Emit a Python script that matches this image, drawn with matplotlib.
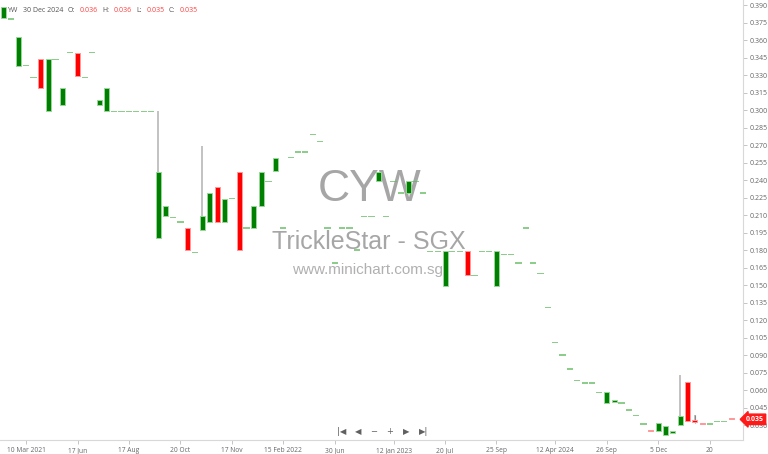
import numpy as np
import matplotlib
matplotlib.use("Agg")
import matplotlib.pyplot as plt
import matplotlib.transforms as mtransforms

# weekly candles CYW (index based x axis)
opens = [0.379, 0.378, 0.338, 0.338, 0.328, 0.344, 0.299, 0.343, 0.304, 0.349,
         0.349, 0.328, 0.349, 0.304, 0.299, 0.299, 0.299, 0.299, 0.299, 0.299,
         0.299, 0.190, 0.209, 0.208, 0.204, 0.199, 0.178, 0.197, 0.204, 0.234,
         0.204, 0.224, 0.247, 0.199, 0.199, 0.218, 0.239, 0.248, 0.199, 0.259,
         0.264, 0.264, 0.279, 0.273, 0.199, 0.169, 0.199, 0.199, 0.180, 0.209,
         0.209, 0.239, 0.209, 0.239, 0.229, 0.229, 0.239, 0.229, 0.179, 0.179,
         0.149, 0.179, 0.179, 0.179, 0.158, 0.179, 0.179, 0.149, 0.176, 0.176,
         0.169, 0.199, 0.169, 0.160, 0.131, 0.101, 0.090, 0.078, 0.068, 0.066,
         0.066, 0.058, 0.049, 0.050, 0.049, 0.043, 0.038, 0.031, 0.026, 0.025,
         0.022, 0.023, 0.030, 0.067, 0.034, 0.032, 0.031, 0.033, 0.033, 0.036]
closes = [0.388, 0.378, 0.363, 0.338, 0.328, 0.319, 0.344, 0.343, 0.319, 0.349,
          0.329, 0.328, 0.349, 0.309, 0.319, 0.299, 0.299, 0.299, 0.299, 0.299,
          0.299, 0.247, 0.218, 0.208, 0.204, 0.180, 0.178, 0.209, 0.229, 0.204,
          0.224, 0.224, 0.180, 0.199, 0.218, 0.247, 0.239, 0.259, 0.199, 0.259,
          0.264, 0.264, 0.279, 0.273, 0.199, 0.169, 0.199, 0.199, 0.180, 0.209,
          0.209, 0.247, 0.209, 0.239, 0.229, 0.239, 0.239, 0.229, 0.179, 0.179,
          0.179, 0.179, 0.179, 0.159, 0.158, 0.179, 0.179, 0.179, 0.176, 0.176,
          0.169, 0.199, 0.169, 0.160, 0.131, 0.101, 0.090, 0.078, 0.068, 0.066,
          0.066, 0.058, 0.058, 0.052, 0.049, 0.043, 0.038, 0.031, 0.025, 0.032,
          0.029, 0.025, 0.038, 0.034, 0.033, 0.031, 0.031, 0.033, 0.033, 0.035]
# only candles that have a visible wick beyond the body
wick_idx = [21, 27, 92, 94]
wick_high = [0.299, 0.269, 0.073, 0.039]
wick_low = [0.190, 0.197, 0.030, 0.032]

tick_idx = [3, 10, 17, 24, 31, 38, 45, 53, 60, 67, 75, 82, 89, 96]
tick_labels = ["10 Mar 2021", "17 Jun", "17 Aug", "20 Oct", "17 Nov", "15 Feb 2022",
               "30 Jun", "12 Jan 2023", "20 Jul", "25 Sep", "12 Apr 2024", "26 Sep",
               "5 Dec", "20"]
price_ticks = np.arange(0.030, 0.3901, 0.015)
last_close = 0.035

plt.rcParams['font.family'] = ['Open Sans', 'DejaVu Sans']

fig = plt.figure(figsize=(7.68, 4.54), dpi=100)
ax = fig.add_axes([0, 14 / 454, 743 / 768, 440 / 454])

o = np.array(opens)
c = np.array(closes)
x = np.arange(len(o))
up = c >= o
flat = np.abs(c - o) < 0.0005

# wicks
ax.vlines(wick_idx, wick_low, wick_high, color='#bdbdbd', lw=1.3, zorder=2)
ax.vlines(94, 0.032, 0.039, color='#888888', lw=0.8, zorder=2)

# bodies
bottom = np.minimum(o, c)
height = np.maximum(np.abs(c - o), 0.0011)
body_col = np.where(up, '#008000', '#ff0000')
edge_col = np.where(up, '#9ad69a', '#ff9a9a')
for i in x:
    if flat[i]:
        ax.bar(i, 0.0011, bottom=c[i] - 0.0005, width=0.85,
               color='#5cb85c' if up[i] else '#ff5050', alpha=0.7, lw=0, zorder=3)
    else:
        ax.bar(i, height[i], bottom=bottom[i], width=0.68, color=body_col[i],
               edgecolor=edge_col[i], lw=0.7, zorder=3)

ax.set_xlim(-0.544, 100.54)
ax.set_ylim(0.0173, 0.3943)

for s in ['top', 'left']:
    ax.spines[s].set_visible(False)
ax.spines['right'].set_color('#d8d8d8')
ax.spines['bottom'].set_color('#d8d8d8')
ax.yaxis.tick_right()
ax.set_yticks(price_ticks)
ax.set_yticklabels(["%.3f" % v for v in price_ticks])
ax.set_xticks(tick_idx)
ax.set_xticklabels(tick_labels)
ax.tick_params(axis='y', length=3, width=0.6, color='#bbbbbb', labelsize=5,
               labelcolor='#666666', pad=2)
ax.tick_params(axis='x', length=3, width=0.6, color='#bbbbbb', labelsize=4.8,
               labelcolor='#666666', pad=2)

# watermark
ax.text(370 / 768, 1 - 190 / 454, "CYW", transform=fig.transFigure, ha='center',
        va='center', fontsize=32, color='#a6a6a6', family='Liberation Sans', zorder=1)
ax.text(369 / 768, 1 - 242 / 454, "TrickleStar - SGX", transform=fig.transFigure,
        ha='center', va='center', fontsize=18, color='#a6a6a6',
        family='Liberation Sans', zorder=1)
ax.text(368 / 768, 1 - 270 / 454, "www.minichart.com.sg", transform=fig.transFigure,
        ha='center', va='center', fontsize=11, color='#b0b0b0',
        family='Liberation Sans', zorder=1)

# header, laid out one piece after the other
hy = 1 - 10 / 454
parts = [("YW", '#555555', 6), ("30 Dec 2024", '#555555', 4), ("O:", '#555555', 5),
         ("0.036", '#ff4040', 4), ("H:", '#555555', 5), ("0.036", '#ff4040', 4),
         ("L:", '#555555', 5), ("0.035", '#ff4040', 4), ("C:", '#555555', 5),
         ("0.035", '#ff4040', 0)]
renderer = fig.canvas.get_renderer()
px = 7
for t, col, gap in parts:
    txt = fig.text(px / 768, hy, t, ha='left', va='center', fontsize=5, color=col)
    px = txt.get_window_extent(renderer).x1 + gap

# navigation buttons
ny = 1 - 432 / 454
for bx, t in [(341.7, "|◀"), (358.3, "◀"), (373.3, "−"), (390, "+"),
              (406, "▶"), (423.3, "▶|")]:
    fig.text(bx / 768, ny, t, ha='center', va='center', fontsize=6,
             color='#606060', family='DejaVu Sans')

# last price tag
trans = mtransforms.blended_transform_factory(ax.transAxes, ax.transData)
ax.text(1.004, last_close, "0.035", transform=trans, ha='left', va='center',
        fontsize=5, color='white', fontweight='bold', clip_on=False, zorder=5,
        bbox=dict(boxstyle='larrow,pad=0.25', fc='#ff1a1a', ec='#ff1a1a'))

fig.savefig("out.png", dpi=100)
